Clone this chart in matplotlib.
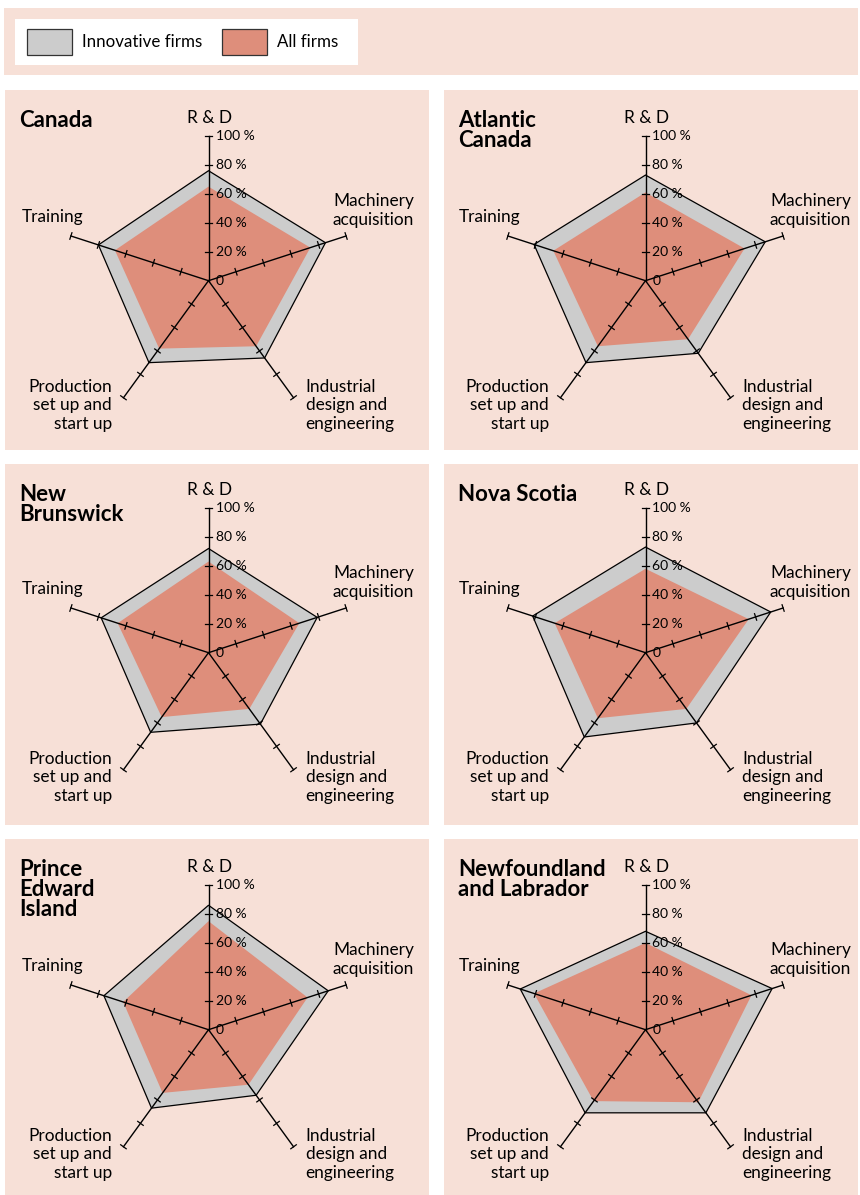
import numpy as np
import matplotlib
matplotlib.use("Agg")
import matplotlib.pyplot as plt
from matplotlib.patches import Patch, Rectangle

plt.rcParams['font.family'] = ['Lato', 'DejaVu Sans']

# ---- data (percent of firms) ----
regions = ["Canada", "Atlantic\nCanada", "New\nBrunswick", "Nova Scotia",
           "Prince\nEdward\nIsland", "Newfoundland\nand Labrador"]
activities = ["R & D", "Machinery\nacquisition", "Industrial\ndesign and\nengineering",
              "Production\nset up and\nstart up", "Training"]
innovative = [
    [76, 85, 66, 70, 80],
    [73, 87, 62, 70, 81],
    [72, 79, 61, 68, 78],
    [73, 91, 60, 72, 82],
    [86, 87, 56, 67, 76],
    [68, 92, 71, 71, 91],
]
all_firms = [
    [65, 74, 56, 58, 68],
    [61, 72, 50, 56, 67],
    [63, 66, 48, 55, 66],
    [58, 75, 48, 56, 66],
    [75, 72, 47, 54, 62],
    [60, 77, 62, 61, 81],
]
ticks = [0, 20, 40, 60, 80, 100]
series_names = ["Innovative firms", "All firms"]

BG = "#f7e0d7"
GREY = "#cccccc"
SALMON = "#de8e7b"

W, H = 860, 1195
fig = plt.figure(figsize=(W / 100, H / 100), dpi=100)
fig.patch.set_facecolor("white")


def frac(x0, y0, x1, y1):
    return [x0 / W, 1 - y1 / H, (x1 - x0) / W, (y1 - y0) / H]


# legend band (axes in pixel units, y down)
lax = fig.add_axes(frac(4, 8, 858, 74.7))
lax.set_facecolor(BG)
lax.set_xlim(4, 858)
lax.set_ylim(74.7, 8)
lax.set_xticks([]); lax.set_yticks([])
for s in lax.spines.values():
    s.set_visible(False)
lax.add_patch(Rectangle((15, 19), 343, 46, facecolor="white", edgecolor="none"))
handles = [Patch(facecolor=GREY, edgecolor="#333333", lw=0.9),
           Patch(facecolor=SALMON, edgecolor="#333333", lw=0.9)]
leg = fig.legend(handles, series_names, ncol=2, loc="center left",
                 bbox_to_anchor=(27 / W, 1 - 42 / H), fontsize=12.2,
                 frameon=False, borderpad=0,
                 handlelength=2.64, handleheight=1.95, handletextpad=0.63,
                 columnspacing=1.14, borderaxespad=0)

# panel layout (pixels)
cols = [(5, 429, 208.5), (444, 858, 645.5)]
rows = [(90, 450, 280.7), (464, 825, 652.7), (839, 1195, 1029.7)]
scale = 1.447  # px per percent

angles = np.deg2rad(90 - 72 * np.arange(5))

for i, name in enumerate(regions):
    x0, x1, cx = cols[i % 2]
    y0, y1, cy = rows[i // 2]
    ax = fig.add_axes(frac(x0, y0, x1, y1))
    ax.set_facecolor(BG)
    ax.set_xlim((x0 - cx) / scale, (x1 - cx) / scale)
    ax.set_ylim((cy - y1) / scale, (cy - y0) / scale)
    ax.set_xticks([]); ax.set_yticks([])
    for s in ax.spines.values():
        s.set_visible(False)

    inn = np.array(innovative[i])
    alf = np.array(all_firms[i])
    ax.fill(inn * np.cos(angles), inn * np.sin(angles), facecolor=GREY,
            edgecolor="black", lw=0.9, zorder=1)
    ax.fill(alf * np.cos(angles), alf * np.sin(angles), facecolor=SALMON,
            edgecolor="none", zorder=2)

    # spokes with tick marks
    half = 3.4 / scale
    for a in angles:
        ax.plot([0, 100 * np.cos(a)], [0, 100 * np.sin(a)], color="black",
                lw=1.0, zorder=3)
        px, py = -np.sin(a), np.cos(a)
        for t in ticks[1:]:
            tx, ty = t * np.cos(a), t * np.sin(a)
            ax.plot([tx - half * px, tx + half * px], [ty - half * py, ty + half * py],
                    color="black", lw=0.9, zorder=3)

    for t in ticks:
        lab = "0" if t == 0 else f"{t} %"
        ax.text(7 / scale, t, lab, fontsize=10, ha="left", va="center", zorder=4)

    fs = 12.4
    ls = 1.2
    ax.text(1 / scale, 163 / scale, activities[0], fontsize=fs, ha="center", va="center")
    ax.text(165 / scale, 70 / scale, activities[1], fontsize=fs, ha="center",
            va="center", linespacing=ls)
    ax.text(97 / scale, -124.5 / scale, activities[2], fontsize=fs, ha="left",
            va="center", linespacing=ls)
    ax.text(-96.5 / scale, -124.5 / scale, activities[3], fontsize=fs, ha="right",
            va="center", linespacing=ls, multialignment="right")
    ax.text(-156 / scale, 64 / scale, activities[4], fontsize=fs, ha="center", va="center")

    ax.text((x0 + 14 - cx) / scale, (cy - y0 - 20) / scale, name, fontsize=16,
            fontweight="bold", ha="left", va="top", linespacing=0.95)

fig.savefig("out.png", dpi=100, facecolor="white")
